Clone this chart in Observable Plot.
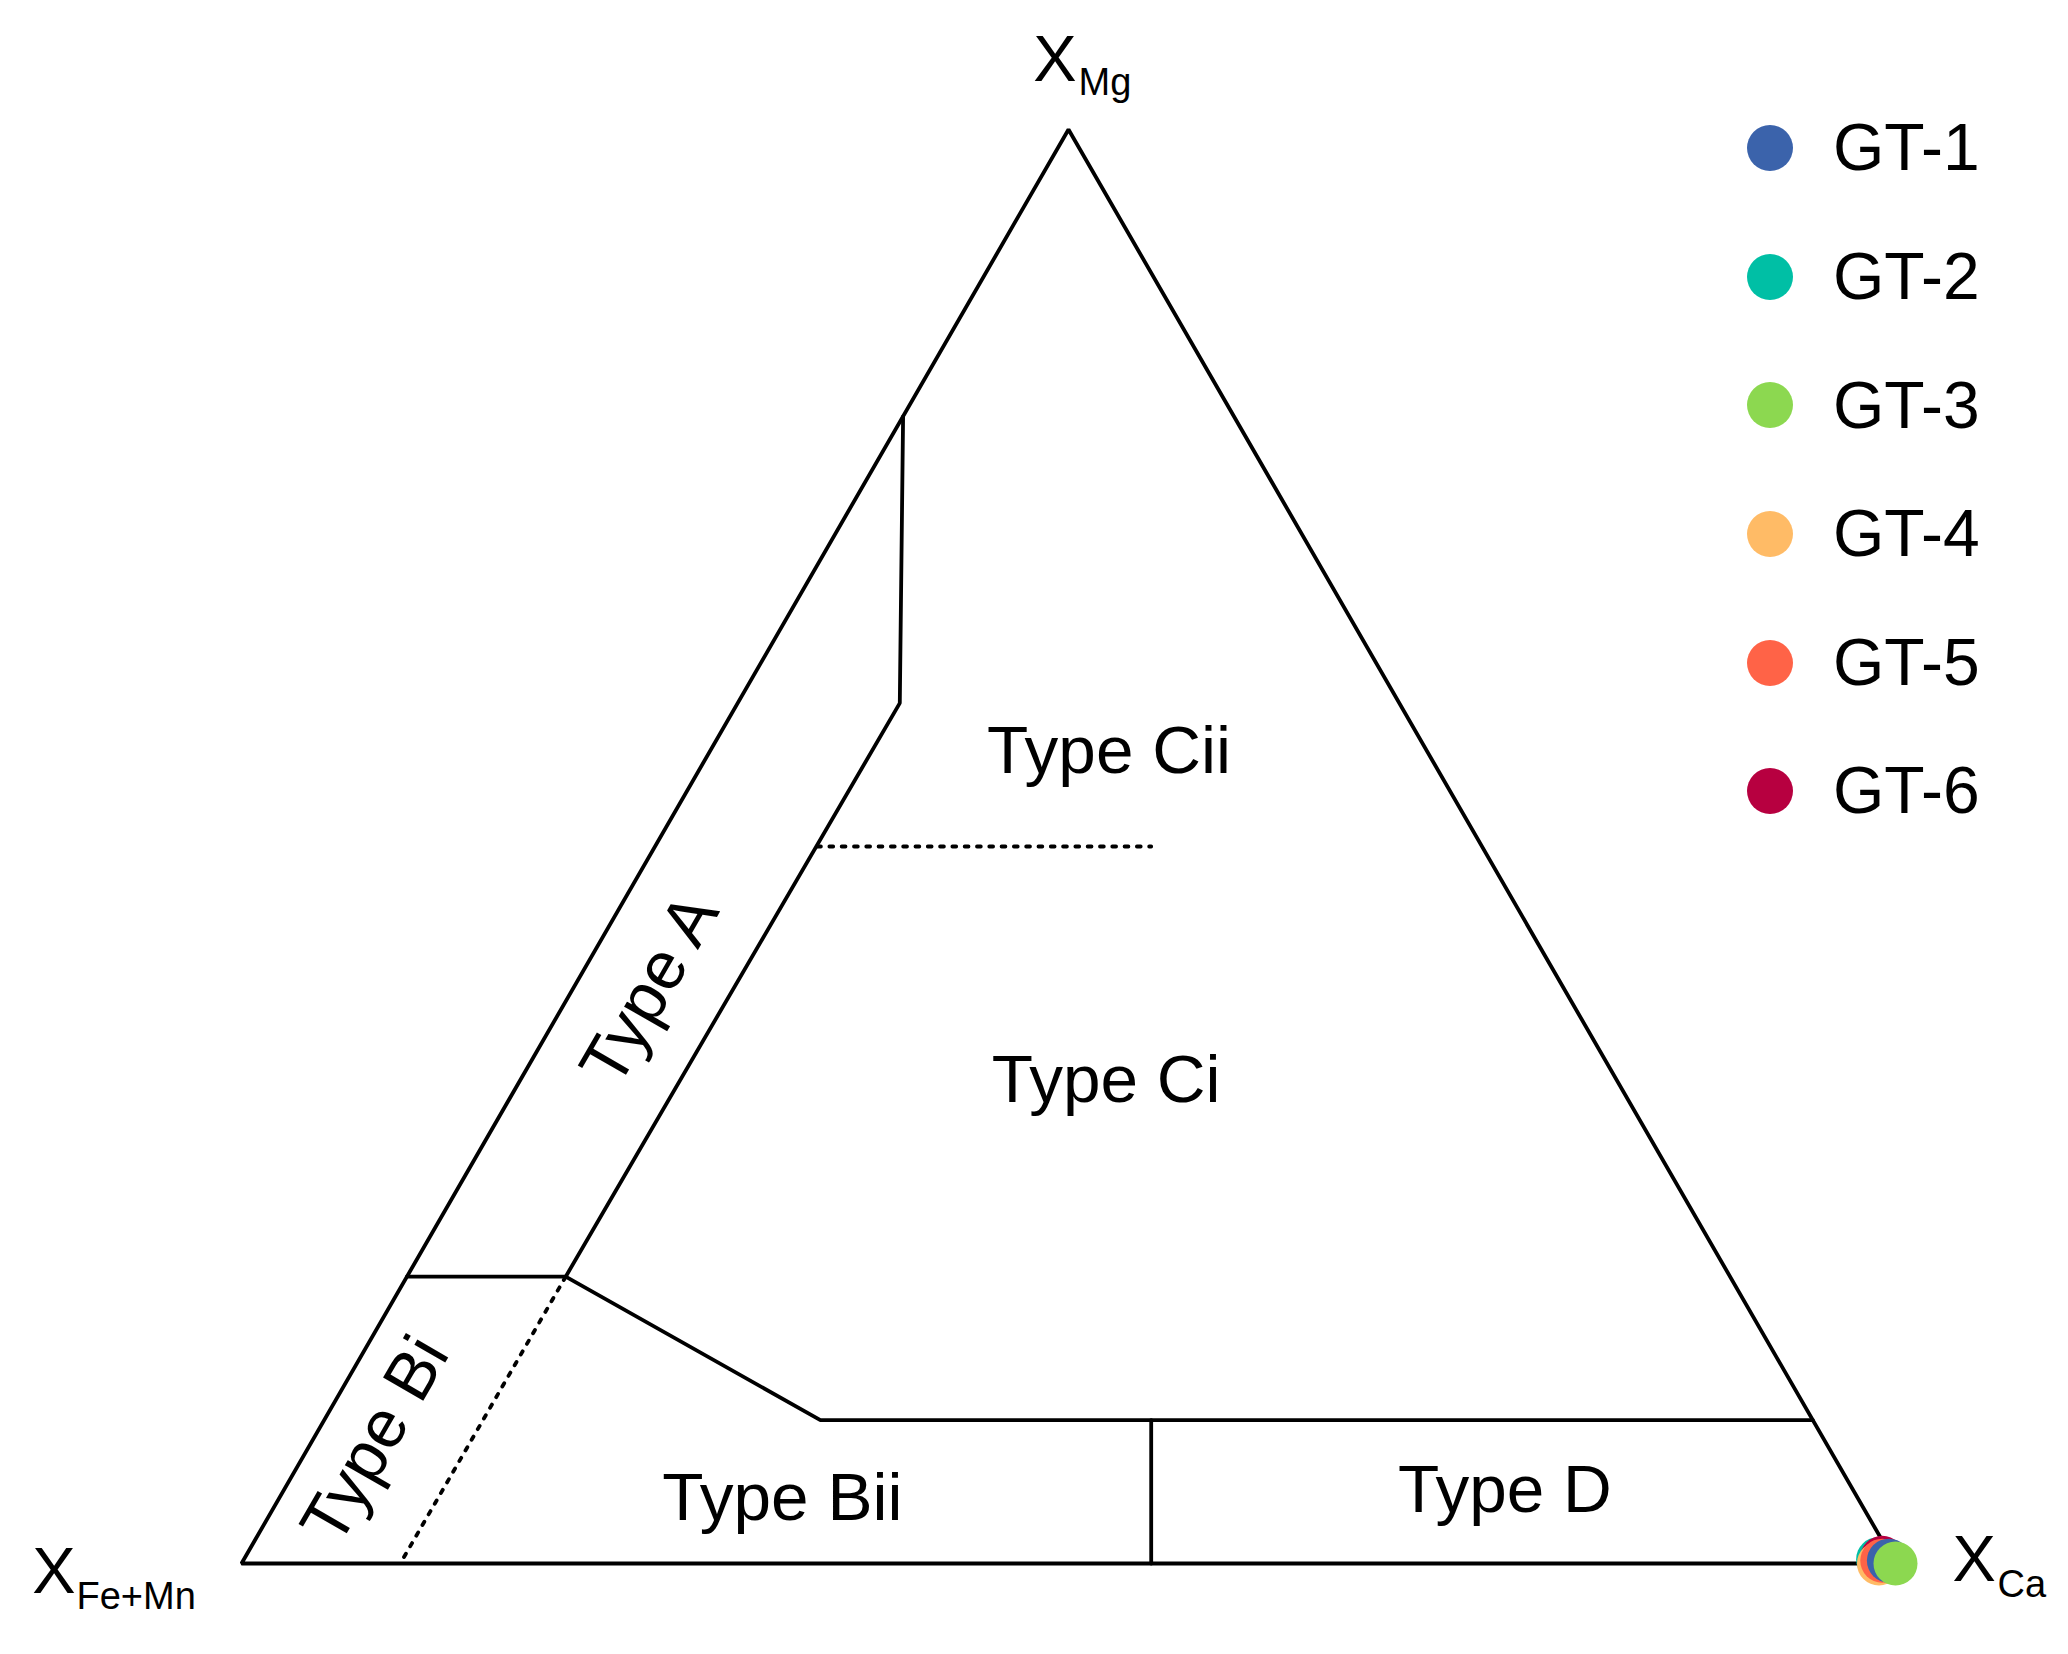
<!DOCTYPE html>
<html>
<head>
<meta charset="utf-8">
<script src="https://cdn.jsdelivr.net/npm/d3@7"></script>
<script src="https://cdn.jsdelivr.net/npm/@observablehq/plot@0.6"></script>
<style>
  html, body { margin: 0; padding: 0; background: #fff; }
  #wrap { position: relative; width: 2068px; height: 1654px; font-family: "Liberation Sans", Arial, sans-serif; }
  #legend { position: absolute; left: 1747px; top: 84px; }
  .row { display: flex; align-items: center; height: 128.6px; }
  .sw { width: 46px; height: 46px; border-radius: 50%; margin-right: 40px; flex: none; }
  .lab { font-size: 66px; line-height: 1.15; color: #000; }
</style>
</head>
<body>
<div id="wrap"><div id="chart"></div><div id="legend"></div></div>
<script>
// ---- data (ternary: XCa, XMg; XFe+Mn = 1 - XCa - XMg) ----
const samples = ["GT-1", "GT-2", "GT-3", "GT-4", "GT-5", "GT-6"];
const colors  = ["#3b63ab", "#00bfa5", "#8cd850", "#ffbb66", "#ff6347", "#b70040"];
const xCa     = [0.995, 0.988, 1.000, 0.990, 0.991, 0.990];
const xMg     = [0.002, 0.003, 0.000, 0.000, 0.002, 0.004];
const drawOrder = ["GT-2", "GT-6", "GT-4", "GT-5", "GT-1", "GT-3"];

const triangle = [[0, 0], [1, 0], [0, 1]]; // [XCa, XMg]
const solidBoundaries = [
  [[0, 0.2], [0.096, 0.2]],
  [[0.096, 0.2], [0.098, 0.6], [0, 0.8]],
  [[0.096, 0.2], [0.3, 0.1], [0.9, 0.1]],
  [[0.5, 0.1], [0.55, 0]]
];
const dottedBoundaries = [
  [[0.096, 0.2], [0.096, 0]],
  [[0.098, 0.5], [0.3, 0.5]]
];

const regionNames = ["Type A", "Type Bi", "Type Bii", "Type Ci", "Type Cii", "Type D"];
const regionCa    = [0.047, 0.038, 0.312, 0.362, 0.249, 0.746];
const regionMg    = [0.400, 0.086, 0.030, 0.3215, 0.551, 0.0356];
const rotatedRegions = ["Type A", "Type Bi"];

const vertexNames = ["Mg", "Fe+Mn", "Ca"];
const vertexCa    = [0, 0, 1];
const vertexMg    = [1, 0, 0];

// ---- ternary -> cartesian ----
const tern = (ca, mg) => ({x: ca + mg / 2, y: mg});
const toPath = (pts, id) => pts.map(([ca, mg]) => ({...tern(ca, mg), id}));

const triData = toPath(triangle, "frame");
const solidData = solidBoundaries.flatMap((p, i) => toPath(p, "s" + i));
const dottedData = dottedBoundaries.flatMap((p, i) => toPath(p, "d" + i));
const sampleData = drawOrder.map(s => {
  const i = samples.indexOf(s);
  return {sample: s, ...tern(xCa[i], xMg[i])};
});
const regionData = regionNames.map((name, i) => ({name, ...tern(regionCa[i], regionMg[i])}));
const vertexData = vertexNames.map((sub, i) => ({sub, main: "X", ...tern(vertexCa[i], vertexMg[i])}));
const vtx = name => vertexData.filter(d => d.sub === name);

const font = "Liberation Sans, Arial, sans-serif";
const lineStyle = {x: "x", y: "y", z: "id", stroke: "#000", strokeWidth: 3.8, strokeLinejoin: "miter"};

const chart = Plot.plot({
  width: 2068,
  height: 1654,
  margin: 0,
  x: {domain: [0, 1], range: [241, 1895], axis: null},
  y: {domain: [0, 1], range: [1563, 129], axis: null},
  color: {domain: samples, range: colors},
  style: {fontFamily: font, background: "#fff", color: "#000"},
  marks: [
    Plot.line(triData, {...lineStyle, curve: "linear-closed"}),
    Plot.line(solidData, lineStyle),
    Plot.line(dottedData, {...lineStyle, strokeWidth: 3.8, strokeDasharray: "3.8,8.5"}),
    Plot.text(regionData.filter(d => !rotatedRegions.includes(d.name)), {
      x: "x", y: "y", text: "name", fontSize: 67.5, lineAnchor: "bottom", textAnchor: "middle", fill: "#000"
    }),
    Plot.text(regionData.filter(d => rotatedRegions.includes(d.name)), {
      x: "x", y: "y", text: "name", fontSize: 67.5, lineAnchor: "middle", textAnchor: "middle", rotate: -60, fill: "#000"
    }),
    Plot.dot(sampleData, {x: "x", y: "y", fill: "sample", r: 22}),
    // vertex labels: X with subscript
    Plot.text(vtx("Mg"), {x: "x", y: "y", text: "main", fontSize: 65, textAnchor: "end", lineAnchor: "bottom", dx: 8, dy: -49}),
    Plot.text(vtx("Mg"), {x: "x", y: "y", text: "sub", fontSize: 38, textAnchor: "start", lineAnchor: "bottom", dx: 10, dy: -35}),
    Plot.text(vtx("Fe+Mn"), {x: "x", y: "y", text: "main", fontSize: 65, textAnchor: "end", lineAnchor: "bottom", dx: -166, dy: 29}),
    Plot.text(vtx("Fe+Mn"), {x: "x", y: "y", text: "sub", fontSize: 38, textAnchor: "start", lineAnchor: "bottom", dx: -165, dy: 45}),
    Plot.text(vtx("Ca"), {x: "x", y: "y", text: "main", fontSize: 65, textAnchor: "start", lineAnchor: "bottom", dx: 57, dy: 17}),
    Plot.text(vtx("Ca"), {x: "x", y: "y", text: "sub", fontSize: 38, textAnchor: "start", lineAnchor: "bottom", dx: 102, dy: 33})
  ]
});
document.getElementById("chart").appendChild(chart);

// ---- legend ----
const legend = d3.select("#legend");
samples.forEach((s, i) => {
  const row = legend.append("div").attr("class", "row");
  row.append("span").attr("class", "sw").style("background", colors[i]);
  row.append("span").attr("class", "lab").text(s);
});
</script>
</body>
</html>
